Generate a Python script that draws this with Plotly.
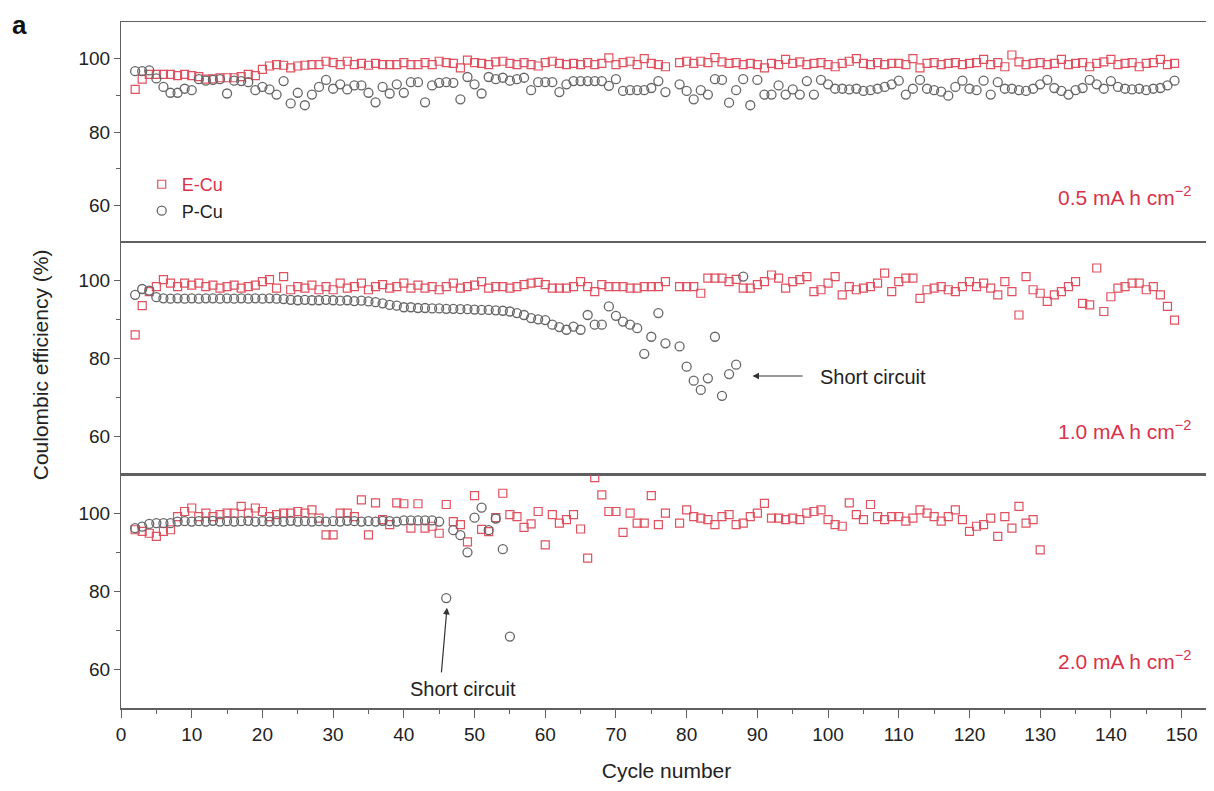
import plotly.graph_objects as go
from plotly.subplots import make_subplots

# ---------------- data ----------------
# Cycle 78 is missing in the reference series.
def cycles(first, last, skip=(78,)):
    return [c for c in range(first, last + 1) if c not in skip]

# 0.5 mA h cm-2
top_e_cu = [
    91.6, 94.4, 95.7, 95.7, 95.7, 95.7, 95.4, 95.7,                 # 2-9
    95.4, 95.1, 94.4, 94.5, 94.8, 94.8, 94.8, 95.1, 95.7, 95.4,     # 10-19
    97.1, 98.0, 98.4, 98.2, 97.5, 98.0, 98.2, 98.4, 98.4, 99.3,     # 20-29
    98.9, 98.4, 99.3, 98.4, 98.7, 98.2, 98.7, 98.4, 98.4, 98.4,     # 30-39
    98.9, 98.4, 98.4, 98.9, 98.4, 99.3, 98.9, 98.7, 97.5, 99.6,     # 40-49
    98.9, 98.7, 98.4, 99.1, 99.3, 98.7, 98.4, 98.9, 98.4, 98.0,     # 50-59
    98.9, 99.3, 98.7, 98.4, 98.7, 98.4, 98.9, 98.4, 98.7, 100.2,    # 60-69
    98.4, 98.9, 99.3, 98.4, 100.0, 98.7, 98.4, 97.8, 98.9,          # 70-79
    99.3, 98.7, 99.3, 98.9, 100.3, 99.1, 98.7, 98.9, 98.4, 98.7,    # 80-89
    98.4, 97.5, 98.7, 98.4, 99.8, 98.7, 99.1, 98.4, 98.7, 98.9,     # 90-99
    98.4, 97.8, 98.7, 99.3, 100.0, 98.7, 98.4, 98.9, 98.4, 98.7,    # 100-109
    98.7, 98.4, 100.0, 97.5, 98.7, 98.9, 98.4, 98.7, 98.9, 98.4,    # 110-119
    98.7, 98.9, 99.8, 98.4, 98.9, 97.8, 101.0, 99.1, 98.4, 98.7,    # 120-129
    98.9, 98.4, 98.7, 99.8, 98.4, 98.7, 98.9, 97.8, 98.7, 99.1,     # 130-139
    99.8, 98.4, 98.7, 98.9, 97.8, 98.7, 98.9, 99.8, 98.4, 98.7,     # 140-149
]
top_p_cu = [
    96.6, 96.6, 96.8, 94.6, 92.3, 90.7, 90.7, 91.8,                 # 2-9
    91.4, 94.4, 94.0, 94.2, 94.4, 90.5, 94.0, 93.9, 93.6, 91.4,     # 10-19
    92.3, 91.6, 90.2, 93.9, 87.8, 90.7, 87.3, 90.2, 92.3, 94.2,     # 20-29
    91.8, 93.0, 91.6, 92.7, 92.7, 90.7, 88.1, 92.3, 90.5, 93.0,     # 30-39
    90.7, 93.6, 93.6, 88.1, 92.7, 93.4, 93.6, 93.4, 88.9, 95.0,     # 40-49
    93.0, 90.5, 95.0, 94.4, 94.8, 94.0, 94.4, 94.8, 91.4, 93.6,     # 50-59
    93.6, 93.6, 90.9, 93.0, 93.9, 93.9, 93.9, 93.9, 93.9, 92.6,     # 60-69
    94.4, 91.2, 91.4, 91.4, 91.4, 92.0, 93.9, 90.9, 93.0,           # 70-79
    91.2, 88.9, 91.4, 90.2, 94.4, 94.2, 88.0, 91.4, 94.4, 87.3,     # 80-89
    94.2, 90.2, 90.2, 92.7, 90.2, 91.6, 90.2, 93.9, 90.2, 94.2,     # 90-99
    93.0, 91.8, 91.8, 91.6, 91.8, 91.2, 91.4, 91.8, 92.3, 93.0,     # 100-109
    94.0, 90.2, 91.8, 94.2, 91.8, 91.4, 91.0, 89.9, 92.3, 94.0,     # 110-119
    91.8, 91.4, 94.0, 90.2, 93.6, 91.8, 91.8, 91.4, 91.2, 91.8,     # 120-129
    93.0, 94.2, 92.0, 91.2, 90.2, 91.4, 92.0, 94.2, 93.0, 91.8,     # 130-139
    93.9, 92.3, 91.8, 91.6, 91.8, 91.4, 91.8, 92.0, 92.7, 94.0,     # 140-149
]

# 1.0 mA h cm-2
mid_e_cu = [
    86.1, 93.6, 97.2, 98.5, 100.3, 99.4, 98.5, 99.4,                # 2-9
    98.9, 99.4, 98.5, 98.9, 98.1, 98.5, 98.9, 98.1, 98.5, 98.9,     # 10-19
    99.8, 100.3, 98.1, 101.1, 97.7, 98.5, 98.1, 98.9, 97.7, 98.5,   # 20-29
    97.7, 99.4, 98.1, 98.5, 99.4, 97.7, 98.5, 99.0, 98.1, 98.5,     # 30-39
    99.4, 98.1, 98.9, 98.1, 98.5, 97.7, 98.5, 99.4, 98.1, 98.5,     # 40-49
    98.9, 99.8, 98.1, 98.5, 98.5, 98.1, 98.5, 99.0, 99.4, 99.6,     # 50-59
    99.0, 98.1, 98.1, 98.1, 98.5, 99.8, 98.5, 97.2, 99.0, 98.5,     # 60-69
    98.5, 98.5, 98.1, 98.1, 98.5, 98.5, 98.5, 99.8, 98.5,           # 70-79
    98.5, 98.5, 96.8, 100.7, 100.7, 100.7, 99.8, 100.4, 98.1, 98.1, # 80-89
    99.0, 99.8, 101.5, 100.7, 98.1, 99.8, 100.3, 101.1, 97.2, 97.7, # 90-99
    99.4, 101.1, 96.4, 98.5, 97.7, 98.1, 98.5, 99.4, 102.0, 97.2,   # 100-109
    99.8, 100.7, 100.7, 95.5, 97.7, 98.1, 98.5, 97.7, 97.2, 98.5,   # 110-119
    99.8, 98.5, 99.4, 98.1, 96.4, 99.8, 97.2, 91.2, 101.1, 97.7,    # 120-129
    96.8, 94.7, 96.4, 97.2, 98.5, 99.8, 94.2, 93.8, 103.3, 92.1,    # 130-139
    95.9, 98.1, 98.5, 99.4, 99.4, 97.7, 98.5, 96.4, 93.4, 89.9,     # 140-149
]
mid_p_cu = [
    96.4, 97.9, 97.5, 95.8, 95.5, 95.4, 95.5, 95.4,                 # 2-9
    95.5, 95.4, 95.5, 95.5, 95.4, 95.5, 95.4, 95.5, 95.4, 95.5,     # 10-19
    95.4, 95.5, 95.4, 95.3, 95.1, 95.0, 95.1, 95.0, 95.0, 95.1,     # 20-29
    95.0, 94.9, 95.0, 94.8, 94.9, 94.7, 94.5, 94.2, 93.8, 93.6,     # 30-39
    93.2, 93.2, 93.0, 93.0, 92.9, 92.9, 92.8, 92.8, 92.7, 92.7,     # 40-49
    92.6, 92.5, 92.5, 92.4, 92.3, 92.1, 91.7, 91.2, 90.4, 90.1,     # 50-59
    89.9, 88.7, 88.1, 87.4, 88.2, 87.4, 91.2, 88.7, 88.7, 93.4,     # 60-69
    91.0, 89.5, 88.7, 87.8, 81.2, 85.6, 91.7, 83.9, 83.1,           # 70-79
    77.9, 74.3, 71.9, 74.9, 85.6, 70.4, 76.0, 78.4, 101.1,          # 80-88
]

# 2.0 mA h cm-2
bot_e_cu = [
    95.9, 95.5, 95.0, 94.2, 95.5, 95.9, 99.3, 100.6,                # 2-9
    101.5, 99.3, 100.2, 99.3, 99.8, 100.2, 100.2, 101.9, 100.2, 101.5,  # 10-19
    100.6, 99.3, 99.8, 100.2, 100.2, 100.6, 100.2, 101.0, 98.9, 94.6,   # 20-29
    94.6, 100.2, 100.2, 99.3, 103.6, 94.6, 102.8, 98.5, 97.2, 102.8,    # 30-39
    102.6, 96.3, 102.6, 96.3, 96.8, 95.0, 102.4, 98.0, 97.2, 92.8,      # 40-49
    104.7, 96.0, 95.4, 99.0, 105.3, 99.8, 99.3, 96.5, 97.4, 100.6,      # 50-59
    92.0, 99.8, 97.6, 98.5, 99.8, 96.1, 88.6, 109.3, 104.9, 100.6,      # 60-69
    100.6, 95.2, 100.2, 97.6, 97.6, 104.7, 97.2, 100.2, 97.6,           # 70-79
    101.0, 99.3, 98.9, 98.5, 97.2, 99.3, 99.8, 97.2, 97.6, 99.3,        # 80-89
    100.2, 102.7, 98.9, 98.9, 98.5, 98.9, 98.5, 100.2, 100.6, 101.0,    # 90-99
    98.5, 97.2, 96.8, 102.8, 99.8, 98.5, 102.4, 99.3, 98.5, 99.3,       # 100-109
    99.3, 98.1, 98.9, 101.0, 100.2, 99.3, 98.1, 99.3, 101.0, 98.5,      # 110-119
    95.5, 96.8, 97.2, 98.9, 94.2, 99.3, 96.3, 101.9, 97.6, 98.5,        # 120-129
    90.7,                                                               # 130
]
bot_p_cu = [
    96.3, 96.7, 97.4, 97.6, 97.6, 97.6, 98.0, 98.1,                 # 2-9
    98.0, 98.1, 98.0, 98.2, 98.0, 98.1, 98.0, 98.1, 98.2, 98.0,     # 10-19
    98.1, 98.0, 98.1, 98.0, 98.2, 98.0, 98.1, 98.0, 98.1, 98.0,     # 20-29
    98.1, 98.0, 98.2, 98.1, 98.0, 98.1, 98.0, 98.2, 98.1, 98.0,     # 30-39
    98.3, 98.3, 98.3, 98.3, 98.3, 98.0, 78.3, 95.8, 94.5, 90.1,     # 40-49
    99.0, 101.6, 95.8, 98.8, 90.9, 68.4,                            # 50-55
]

top_cyc_e = cycles(2, 149); top_cyc_p = cycles(2, 149)
mid_cyc_e = cycles(2, 149); mid_cyc_p = cycles(2, 88)
bot_cyc_e = cycles(2, 130); bot_cyc_p = cycles(2, 55, skip=())

assert len(top_cyc_e) == len(top_e_cu), (len(top_cyc_e), len(top_e_cu))
assert len(top_cyc_p) == len(top_p_cu), (len(top_cyc_p), len(top_p_cu))
assert len(mid_cyc_e) == len(mid_e_cu), (len(mid_cyc_e), len(mid_e_cu))
assert len(mid_cyc_p) == len(mid_p_cu), (len(mid_cyc_p), len(mid_p_cu))
assert len(bot_cyc_e) == len(bot_e_cu), (len(bot_cyc_e), len(bot_e_cu))
assert len(bot_cyc_p) == len(bot_p_cu), (len(bot_cyc_p), len(bot_p_cu))

panel_labels = ["0.5 mA h cm<sup>−2</sup>", "1.0 mA h cm<sup>−2</sup>", "2.0 mA h cm<sup>−2</sup>"]
x_ticks = list(range(0, 151, 10))
y_ticks = [60, 80, 100]

# ---------------- style ----------------
RED = "#e0505f"
RED_TXT = "#d8334a"
GRAY = "#666666"
AXC = "#606060"
FONT = "Liberation Sans, Arial, sans-serif"

fig = make_subplots(rows=3, cols=1, shared_xaxes=True, vertical_spacing=0,
                    row_heights=[220, 233, 233])

series = [
    (top_cyc_e, top_e_cu, top_cyc_p, top_p_cu),
    (mid_cyc_e, mid_e_cu, mid_cyc_p, mid_p_cu),
    (bot_cyc_e, bot_e_cu, bot_cyc_p, bot_p_cu),
]
for i, (ce, ve, cp, vp) in enumerate(series):
    row = i + 1
    fig.add_trace(go.Scatter(
        x=ce, y=ve, mode="markers", name="<span style='color:%s'>E-Cu</span>" % RED_TXT,
        legendgroup="e", showlegend=(i == 0),
        marker=dict(symbol="square-open", size=8, color=RED, line=dict(width=1.2, color=RED)),
        cliponaxis=True), row=row, col=1)
    fig.add_trace(go.Scatter(
        x=cp, y=vp, mode="markers", name="<span style='color:#222'>P-Cu</span>",
        legendgroup="p", showlegend=(i == 0),
        marker=dict(symbol="circle-open", size=9, color=GRAY, line=dict(width=1.3, color=GRAY)),
        cliponaxis=True), row=row, col=1)

for r in (1, 2, 3):
    fig.update_yaxes(range=[50, 110], tickvals=y_ticks, ticks="outside", ticklen=6,
                     tickwidth=1.3, tickcolor=AXC, showline=True, linecolor=AXC,
                     linewidth=1.2, mirror=True, showgrid=False, zeroline=False,
                     tickfont=dict(family=FONT, size=19, color="#222"),
                     minor=dict(tickvals=[70, 90], ticks="outside", ticklen=4,
                                tickcolor=AXC, tickwidth=1.2),
                     row=r, col=1)
    fig.update_xaxes(range=[0, 154.3], showline=True, linecolor=AXC, linewidth=1.2,
                     mirror=True, showgrid=False, zeroline=False, row=r, col=1)

fig.update_xaxes(ticks="", showticklabels=False, row=1, col=1)
fig.update_xaxes(ticks="", showticklabels=False, row=2, col=1)
fig.update_xaxes(tickvals=x_ticks, ticks="outside", ticklen=8, tickwidth=1.3,
                 tickcolor=AXC, showticklabels=True, linewidth=1.6,
                 tickfont=dict(family=FONT, size=19, color="#222"),
                 minor=dict(dtick=5, tick0=0, ticks="outside", ticklen=4,
                            tickcolor=AXC, tickwidth=1.2),
                 title=dict(text="Cycle number", standoff=20,
                            font=dict(family=FONT, size=21, color="#222")),
                 row=3, col=1)

annotations = []
for i, lab in enumerate(panel_labels):
    s = "" if i == 0 else str(i + 1)
    annotations.append(dict(x=151.6, y=[62.6, 61.6, 62.3][i], xref="x" + s, yref="y" + s,
                            text=lab, showarrow=False, xanchor="right", yanchor="middle",
                            font=dict(family=FONT, size=21, color=RED_TXT)))

# short-circuit arrows and labels
annotations += [
    dict(x=89.3, y=75.5, xref="x2", yref="y2", ax=96.6, ay=75.5, axref="x2", ayref="y2",
         text="", showarrow=True, arrowhead=2, arrowsize=1.1, arrowwidth=1.2, arrowcolor="#333"),
    dict(x=98.6, y=75.2, xref="x2", yref="y2", text="Short circuit", showarrow=False,
         xanchor="left", yanchor="middle", font=dict(family=FONT, size=20, color="#222")),
    dict(x=46.1, y=75.8, xref="x3", yref="y3", ax=45.3, ay=58.8, axref="x3", ayref="y3",
         text="", showarrow=True, arrowhead=2, arrowsize=1.1, arrowwidth=1.2, arrowcolor="#333"),
    dict(x=48.4, y=55.0, xref="x3", yref="y3", text="Short circuit", showarrow=False,
         xanchor="center", yanchor="middle", font=dict(family=FONT, size=20, color="#222")),
    dict(x=-0.074, y=0.5, xref="paper", yref="paper", text="Coulombic efficiency (%)",
         textangle=-90, showarrow=False, xanchor="center", yanchor="middle",
         font=dict(family=FONT, size=21, color="#222")),
    dict(x=-0.102, y=1.0204, xref="paper", yref="paper", text="<b>a</b>", showarrow=False,
         xanchor="left", yanchor="top", font=dict(family=FONT, size=26, color="#111")),
]

# The page body has an 8 px margin, so the figure is 8 px smaller and the
# left/top margins 8 px smaller to land the plot area where the reference has it.
fig.update_layout(
    width=1206, height=783,
    margin=dict(l=113, r=2, t=14, b=83),
    paper_bgcolor="white", plot_bgcolor="white",
    font=dict(family=FONT, color="#222"),
    showlegend=True,
    legend=dict(x=0.019, y=0.79, xanchor="left", yanchor="top",
                bgcolor="rgba(0,0,0,0)", font=dict(family=FONT, size=18),
                itemsizing="trace", tracegroupgap=0, itemwidth=30),
    annotations=annotations,
)

fig.write_html("out.html")
